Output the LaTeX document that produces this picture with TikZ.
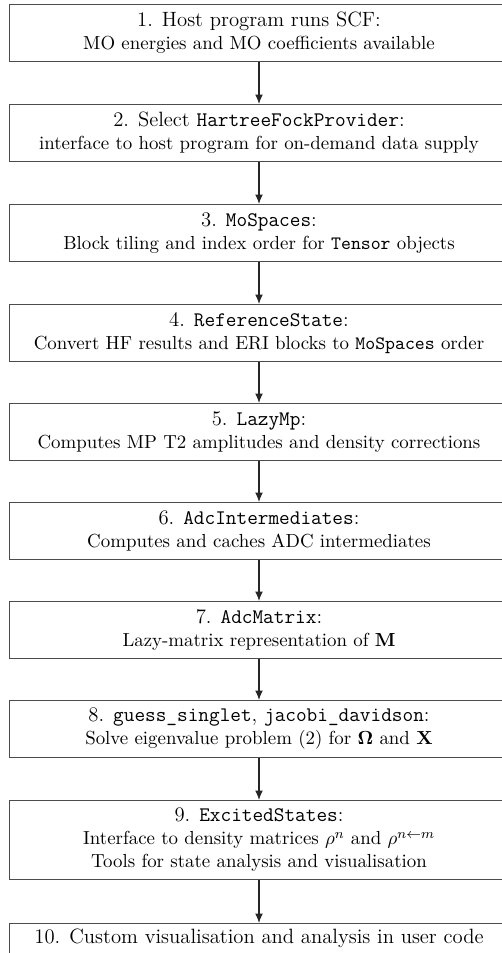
\documentclass[tikz,border=0pt]{standalone}
\usetikzlibrary{arrows.meta}
\newcommand{\hdsize}{\fontsize{12}{14}\selectfont}
\newcommand{\bdsize}{\fontsize{10.95}{13.3}\selectfont}
\begin{document}
\begin{tikzpicture}[x=0.58pt,y=-0.58pt,
  box/.style={draw=black!70, line width=0.55pt, minimum width=290pt, minimum height=32.8pt, align=center, inner sep=0pt, anchor=north, font=\bdsize},
  tall/.style={box, minimum height=45.8pt},
  arr/.style={draw=black!85, line width=0.6pt, -{Latex[length=5.5pt,width=4.5pt]}}
]
\useasboundingbox (0,0) rectangle (502,953);
\clip (0,0) rectangle (502,953);
\node[box] (b1) at (259,4) {{\hdsize 1. Host program runs SCF:}\\ MO energies and MO coefficients available};
\node[box] (b2) at (259,104) {{\hdsize 2. Select \texttt{HartreeFockProvider}:}\\ interface to host program for on-demand data supply};
\node[box] (b3) at (259,204) {{\hdsize 3. \texttt{MoSpaces}:}\\ Block tiling and index order for \texttt{Tensor} objects};
\node[box] (b4) at (259,304) {{\hdsize 4. \texttt{ReferenceState}:}\\ Convert HF results and ERI blocks to \texttt{MoSpaces} order};
\node[box] (b5) at (259,403) {{\hdsize 5. \texttt{LazyMp}:}\\ Computes MP T2 amplitudes and density corrections};
\node[box] (b6) at (259,502) {{\hdsize 6. \texttt{AdcIntermediates}:}\\ Computes and caches ADC intermediates};
\node[box] (b7) at (259,601) {{\hdsize 7. \texttt{AdcMatrix}:}\\ Lazy-matrix representation of $\mathbf{M}$};
\node[box] (b8) at (259,700) {{\hdsize 8. \texttt{guess\_singlet}, \texttt{jacobi\_davidson}:}\\ Solve eigenvalue problem (2) for $\mathbf{\Omega}$ and $\mathbf{X}$};
\node[tall] (b9) at (259,800) {{\hdsize 9. \texttt{ExcitedStates}:}\\ Interface to density matrices $\rho^n$ and $\rho^{n\leftarrow m}$\\ Tools for state analysis and visualisation};
\node[box, minimum height=17.4pt] (b10) at (259,923) {\hdsize 10. Custom visualisation and analysis in user code};
\foreach \a/\b in {b1/b2,b2/b3,b3/b4,b4/b5,b5/b6,b6/b7,b7/b8,b8/b9,b9/b10}
  \draw[arr] (\a.south) -- (\b.north);
\end{tikzpicture}
\end{document}
